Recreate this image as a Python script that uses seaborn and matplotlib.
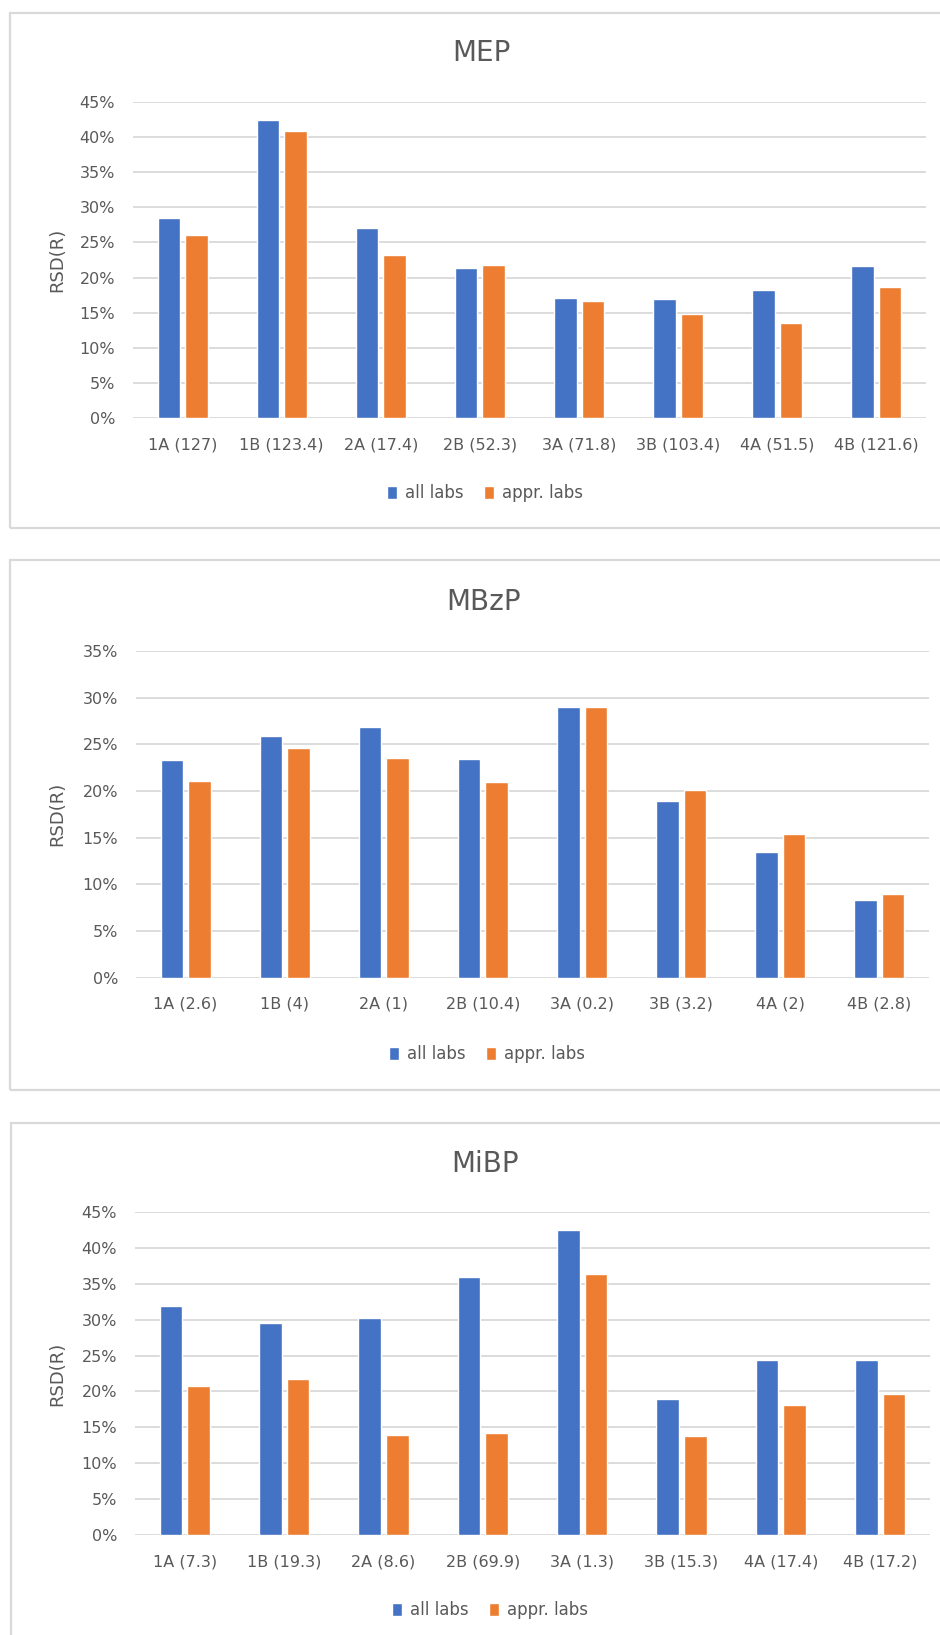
import numpy as np
import pandas as pd
import matplotlib
matplotlib.use('Agg')
import matplotlib.pyplot as plt
from matplotlib.patches import Rectangle
from matplotlib.ticker import PercentFormatter, MultipleLocator
import seaborn as sns

# Data (RSD(R) in %)
mep_labels = ['1A (127)', '1B (123.4)', '2A (17.4)', '2B (52.3)', '3A (71.8)', '3B (103.4)', '4A (51.5)', '4B (121.6)']
mep_all = [28.5, 42.4, 27.1, 21.4, 17.1, 16.9, 18.3, 21.6]
mep_appr = [26.1, 40.8, 23.2, 21.8, 16.7, 14.8, 13.6, 18.7]

mbzp_labels = ['1A (2.6)', '1B (4)', '2A (1)', '2B (10.4)', '3A (0.2)', '3B (3.2)', '4A (2)', '4B (2.8)']
mbzp_all = [23.3, 25.9, 26.8, 23.4, 29.0, 18.9, 13.4, 8.3]
mbzp_appr = [21.1, 24.6, 23.5, 21.0, 29.0, 20.1, 15.4, 8.9]

mibp_labels = ['1A (7.3)', '1B (19.3)', '2A (8.6)', '2B (69.9)', '3A (1.3)', '3B (15.3)', '4A (17.4)', '4B (17.2)']
mibp_all = [31.9, 29.6, 30.3, 35.9, 42.5, 18.9, 24.4, 24.4]
mibp_appr = [20.8, 21.7, 13.9, 14.2, 36.4, 13.8, 18.1, 19.7]

series_names = ['all labs', 'appr. labs']

BLUE = '#4472C4'
ORANGE = '#ED7D31'
GRID = '#D9D9D9'
TEXT = '#595959'

W, H = 940, 1635

sns.set_style('white')
plt.rcParams['font.family'] = ['DejaVu Sans']

fig = plt.figure(figsize=(W / 100, H / 100), dpi=100)


def fx(px):
    return px / W


def fy(py):
    return 1 - py / H


def draw_panel(title, labels, all_vals, appr_vals, ymax,
               box, ax_box, title_xy, legend_xy):
    # outer chart border
    bx0, by0, bx1, by1 = box
    fig.patches.append(Rectangle((fx(bx0), fy(by1)), fx(bx1 - bx0), (by1 - by0) / H,
                                 transform=fig.transFigure, fill=False,
                                 edgecolor=GRID, linewidth=1.6))

    l, t, r, b = ax_box
    ax = fig.add_axes([fx(l), fy(b), fx(r - l), (b - t) / H])

    df = pd.DataFrame({
        'sample': labels * 2,
        'rsd': all_vals + appr_vals,
        'group': [series_names[0]] * len(labels) + [series_names[1]] * len(labels),
    })
    sns.barplot(data=df, x='sample', y='rsd', hue='group', order=labels,
                hue_order=series_names, palette=[BLUE, ORANGE], saturation=1,
                width=0.555, gap=0.18, ax=ax)

    ax.set_xlim(-0.5, len(labels) - 0.5)
    ax.set_ylim(0, ymax)
    ax.yaxis.set_major_locator(MultipleLocator(5))
    ax.yaxis.set_major_formatter(PercentFormatter(100, decimals=0))
    ax.grid(axis='y', color=GRID, linewidth=1.3)
    ax.set_axisbelow(True)
    for s in ax.spines.values():
        s.set_visible(False)
    ax.tick_params(axis='both', length=0, labelsize=11.5, labelcolor=TEXT)
    ax.tick_params(axis='x', pad=14)
    ax.tick_params(axis='y', pad=13)
    ax.set_xlabel('')
    ax.set_ylabel('')
    fig.text(fx(57), fy((t + b) / 2), 'RSD(R)', rotation=90, ha='center', va='center',
             fontsize=13, color=TEXT)

    fig.text(fx(title_xy[0]), fy(title_xy[1]), title, ha='center', va='center',
             fontsize=20, color=TEXT)

    handles, hl = ax.get_legend_handles_labels()
    ax.get_legend().remove()
    fig.legend(handles, hl, loc='center', bbox_to_anchor=(fx(legend_xy[0]), fy(legend_xy[1])),
               ncol=2, frameon=False, fontsize=12, labelcolor=TEXT,
               handlelength=0.6, handleheight=0.8, handletextpad=0.5,
               columnspacing=1.2, borderaxespad=0)
    return ax


draw_panel('MEP', mep_labels, mep_all, mep_appr, 45,
           box=(10, 13, 960, 528), ax_box=(133, 101.6, 926, 418.4),
           title_xy=(481, 53), legend_xy=(485, 493))
draw_panel('MBzP', mbzp_labels, mbzp_all, mbzp_appr, 35,
           box=(10, 560, 960, 1090), ax_box=(136, 651, 929, 977.5),
           title_xy=(484, 602), legend_xy=(487, 1054))
draw_panel('MiBP', mibp_labels, mibp_all, mibp_appr, 45,
           box=(11, 1123, 960, 1660), ax_box=(135, 1212, 930, 1535),
           title_xy=(485, 1164), legend_xy=(490, 1610))

fig.savefig('out.png', dpi=100, facecolor='white')
